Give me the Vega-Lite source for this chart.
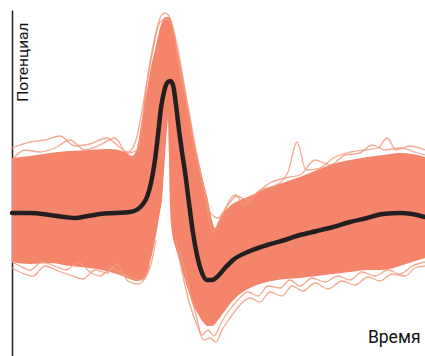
{
  "$schema": "https://vega.github.io/schema/vega-lite/v6.json",
  "width": 413,
  "height": 346,
  "autosize": "none",
  "padding": {"left": 12, "top": 10, "right": 0, "bottom": 0},
  "background": "white",
  "config": {"view": {"stroke": null}},
  "datasets": {
    "band": [
      {"piece": "A", "t": 0, "hi": 55, "lo": -49},
      {"piece": "A", "t": 18, "hi": 57, "lo": -51},
      {"piece": "A", "t": 38, "hi": 60, "lo": -50},
      {"piece": "A", "t": 58, "hi": 62, "lo": -53},
      {"piece": "A", "t": 78, "hi": 63, "lo": -55},
      {"piece": "A", "t": 98, "hi": 64, "lo": -59},
      {"piece": "A", "t": 113, "hi": 61, "lo": -64},
      {"piece": "A", "t": 120, "hi": 57, "lo": -67},
      {"piece": "A", "t": 125, "hi": 65, "lo": -68},
      {"piece": "A", "t": 129, "hi": 88, "lo": -67},
      {"piece": "A", "t": 133, "hi": 113, "lo": -64},
      {"piece": "A", "t": 136, "hi": 129, "lo": -57},
      {"piece": "A", "t": 138, "hi": 141, "lo": -49},
      {"piece": "A", "t": 141, "hi": 155, "lo": -37},
      {"piece": "A", "t": 143, "hi": 163, "lo": -27},
      {"piece": "A", "t": 146, "hi": 177, "lo": -11},
      {"piece": "A", "t": 148, "hi": 185, "lo": 1},
      {"piece": "A", "t": 150, "hi": 191, "lo": 13},
      {"piece": "A", "t": 152, "hi": 195, "lo": 41},
      {"piece": "A", "t": 154, "hi": 196, "lo": 71},
      {"piece": "A", "t": 156, "hi": 196, "lo": 95},
      {"piece": "B", "t": 156, "hi": 196, "lo": 95},
      {"piece": "B", "t": 157, "hi": 196, "lo": 53},
      {"piece": "B", "t": 158, "hi": 195, "lo": 8},
      {"piece": "B", "t": 160, "hi": 191, "lo": -19},
      {"piece": "B", "t": 163, "hi": 177, "lo": -33},
      {"piece": "B", "t": 166, "hi": 161, "lo": -43},
      {"piece": "B", "t": 169, "hi": 145, "lo": -53},
      {"piece": "B", "t": 172, "hi": 129, "lo": -64},
      {"piece": "B", "t": 175, "hi": 113, "lo": -74},
      {"piece": "B", "t": 178, "hi": 96, "lo": -83},
      {"piece": "B", "t": 181, "hi": 78, "lo": -91},
      {"piece": "B", "t": 186, "hi": 55, "lo": -101},
      {"piece": "B", "t": 191, "hi": 33, "lo": -109},
      {"piece": "B", "t": 196, "hi": 13, "lo": -113},
      {"piece": "B", "t": 200, "hi": -7, "lo": -113},
      {"piece": "B", "t": 203, "hi": -15, "lo": -111},
      {"piece": "B", "t": 206, "hi": -9, "lo": -107},
      {"piece": "B", "t": 212, "hi": 1, "lo": -99},
      {"piece": "B", "t": 218, "hi": 7, "lo": -91},
      {"piece": "B", "t": 228, "hi": 13, "lo": -81},
      {"piece": "B", "t": 238, "hi": 17, "lo": -75},
      {"piece": "B", "t": 255, "hi": 25, "lo": -69},
      {"piece": "B", "t": 273, "hi": 31, "lo": -66},
      {"piece": "B", "t": 288, "hi": 36, "lo": -65},
      {"piece": "B", "t": 305, "hi": 43, "lo": -63},
      {"piece": "B", "t": 321, "hi": 49, "lo": -61},
      {"piece": "B", "t": 338, "hi": 53, "lo": -59},
      {"piece": "B", "t": 355, "hi": 56, "lo": -57},
      {"piece": "B", "t": 371, "hi": 58, "lo": -57},
      {"piece": "B", "t": 388, "hi": 60, "lo": -53},
      {"piece": "B", "t": 400, "hi": 59, "lo": -49},
      {"piece": "B", "t": 413, "hi": 56, "lo": -45}
    ],
    "traces": [
      {"s": "U1", "t": 0, "v": 65}, {"s": "U1", "t": 18, "v": 71}, {"s": "U1", "t": 33, "v": 73}, {"s": "U1", "t": 48, "v": 77},
      {"s": "U1", "t": 63, "v": 67}, {"s": "U1", "t": 78, "v": 69}, {"s": "U1", "t": 95, "v": 75}, {"s": "U1", "t": 106, "v": 67},
      {"s": "U1", "t": 116, "v": 61}, {"s": "U1", "t": 124, "v": 73}, {"s": "U1", "t": 131, "v": 108}, {"s": "U1", "t": 138, "v": 151},
      {"s": "U1", "t": 144, "v": 181}, {"s": "U1", "t": 149, "v": 197}, {"s": "U1", "t": 153, "v": 200}, {"s": "U1", "t": 157, "v": 197},
      {"s": "U1", "t": 162, "v": 178}, {"s": "U1", "t": 168, "v": 143}, {"s": "U1", "t": 175, "v": 108}, {"s": "U1", "t": 183, "v": 63},
      {"s": "U1", "t": 191, "v": 28}, {"s": "U1", "t": 198, "v": 1}, {"s": "U1", "t": 206, "v": -5}, {"s": "U1", "t": 216, "v": 8},
      {"s": "U1", "t": 225, "v": 17}, {"s": "U1", "t": 235, "v": 13}, {"s": "U1", "t": 248, "v": 23}, {"s": "U1", "t": 263, "v": 27},
      {"s": "U1", "t": 276, "v": 41}, {"s": "U1", "t": 285, "v": 71}, {"s": "U1", "t": 294, "v": 43}, {"s": "U1", "t": 308, "v": 45},
      {"s": "U1", "t": 321, "v": 55}, {"s": "U1", "t": 338, "v": 61}, {"s": "U1", "t": 353, "v": 63}, {"s": "U1", "t": 366, "v": 65},
      {"s": "U1", "t": 375, "v": 75}, {"s": "U1", "t": 384, "v": 63}, {"s": "U1", "t": 398, "v": 67}, {"s": "U1", "t": 413, "v": 63},
      {"s": "U2", "t": 0, "v": 53}, {"s": "U2", "t": 13, "v": 63}, {"s": "U2", "t": 28, "v": 61}, {"s": "U2", "t": 43, "v": 65},
      {"s": "U2", "t": 58, "v": 73}, {"s": "U2", "t": 73, "v": 63}, {"s": "U2", "t": 88, "v": 68}, {"s": "U2", "t": 103, "v": 75},
      {"s": "U2", "t": 115, "v": 60}, {"s": "U2", "t": 126, "v": 63}, {"s": "U2", "t": 134, "v": 123}, {"s": "U2", "t": 141, "v": 163},
      {"s": "U2", "t": 148, "v": 191}, {"s": "U2", "t": 154, "v": 194}, {"s": "U2", "t": 160, "v": 188}, {"s": "U2", "t": 166, "v": 163},
      {"s": "U2", "t": 174, "v": 118}, {"s": "U2", "t": 183, "v": 68}, {"s": "U2", "t": 193, "v": 18}, {"s": "U2", "t": 201, "v": -19},
      {"s": "U2", "t": 210, "v": -2}, {"s": "U2", "t": 223, "v": 18}, {"s": "U2", "t": 233, "v": 8}, {"s": "U2", "t": 246, "v": 21},
      {"s": "U2", "t": 258, "v": 30}, {"s": "U2", "t": 273, "v": 35}, {"s": "U2", "t": 288, "v": 38}, {"s": "U2", "t": 303, "v": 53},
      {"s": "U2", "t": 318, "v": 48}, {"s": "U2", "t": 333, "v": 58}, {"s": "U2", "t": 348, "v": 60}, {"s": "U2", "t": 360, "v": 68},
      {"s": "U2", "t": 373, "v": 63}, {"s": "U2", "t": 388, "v": 65}, {"s": "U2", "t": 403, "v": 61}, {"s": "U2", "t": 413, "v": 58},
      {"s": "L1a", "t": 0, "v": -55}, {"s": "L1a", "t": 10, "v": -60}, {"s": "L1a", "t": 21, "v": -63}, {"s": "L1a", "t": 33, "v": -53},
      {"s": "L1a", "t": 46, "v": -58}, {"s": "L1a", "t": 58, "v": -62}, {"s": "L1a", "t": 71, "v": -66}, {"s": "L1a", "t": 83, "v": -57},
      {"s": "L1a", "t": 95, "v": -60}, {"s": "L1a", "t": 105, "v": -51}, {"s": "L1a", "t": 116, "v": -68}, {"s": "L1a", "t": 126, "v": -71},
      {"s": "L1a", "t": 134, "v": -64}, {"s": "L1a", "t": 140, "v": -47}, {"s": "L1a", "t": 144, "v": -27},
      {"s": "L2a", "t": 0, "v": -49}, {"s": "L2a", "t": 8, "v": -53}, {"s": "L2a", "t": 18, "v": -57}, {"s": "L2a", "t": 30, "v": -49},
      {"s": "L2a", "t": 43, "v": -53}, {"s": "L2a", "t": 54, "v": -57}, {"s": "L2a", "t": 66, "v": -49}, {"s": "L2a", "t": 78, "v": -59},
      {"s": "L2a", "t": 88, "v": -63}, {"s": "L2a", "t": 100, "v": -55}, {"s": "L2a", "t": 110, "v": -61}, {"s": "L2a", "t": 120, "v": -65},
      {"s": "L2a", "t": 130, "v": -67}, {"s": "L2a", "t": 138, "v": -52},
      {"s": "L1b", "t": 164, "v": -27}, {"s": "L1b", "t": 170, "v": -59}, {"s": "L1b", "t": 178, "v": -92}, {"s": "L1b", "t": 185, "v": -112},
      {"s": "L1b", "t": 192, "v": -127}, {"s": "L1b", "t": 198, "v": -125}, {"s": "L1b", "t": 204, "v": -129}, {"s": "L1b", "t": 210, "v": -117},
      {"s": "L1b", "t": 218, "v": -105}, {"s": "L1b", "t": 228, "v": -92}, {"s": "L1b", "t": 238, "v": -85}, {"s": "L1b", "t": 248, "v": -89},
      {"s": "L1b", "t": 258, "v": -79}, {"s": "L1b", "t": 270, "v": -83}, {"s": "L1b", "t": 280, "v": -73}, {"s": "L1b", "t": 291, "v": -78},
      {"s": "L1b", "t": 303, "v": -70}, {"s": "L1b", "t": 316, "v": -76}, {"s": "L1b", "t": 330, "v": -68}, {"s": "L1b", "t": 343, "v": -72},
      {"s": "L1b", "t": 356, "v": -64}, {"s": "L1b", "t": 368, "v": -68}, {"s": "L1b", "t": 380, "v": -61}, {"s": "L1b", "t": 393, "v": -63},
      {"s": "L1b", "t": 403, "v": -55}, {"s": "L1b", "t": 413, "v": -53},
      {"s": "L2b", "t": 168, "v": -37}, {"s": "L2b", "t": 176, "v": -72}, {"s": "L2b", "t": 184, "v": -102}, {"s": "L2b", "t": 190, "v": -122},
      {"s": "L2b", "t": 196, "v": -117}, {"s": "L2b", "t": 202, "v": -123}, {"s": "L2b", "t": 208, "v": -112}, {"s": "L2b", "t": 216, "v": -99},
      {"s": "L2b", "t": 226, "v": -87}, {"s": "L2b", "t": 236, "v": -79}, {"s": "L2b", "t": 246, "v": -83}, {"s": "L2b", "t": 256, "v": -73},
      {"s": "L2b", "t": 268, "v": -75}, {"s": "L2b", "t": 278, "v": -67}, {"s": "L2b", "t": 288, "v": -73}, {"s": "L2b", "t": 300, "v": -65},
      {"s": "L2b", "t": 313, "v": -69}, {"s": "L2b", "t": 326, "v": -63}, {"s": "L2b", "t": 338, "v": -67}, {"s": "L2b", "t": 350, "v": -59},
      {"s": "L2b", "t": 363, "v": -63}, {"s": "L2b", "t": 376, "v": -57}, {"s": "L2b", "t": 388, "v": -61}, {"s": "L2b", "t": 400, "v": -53},
      {"s": "L2b", "t": 413, "v": -49}
    ],
    "mean": [
      {"t": 0, "v": 0}, {"t": 18, "v": 0}, {"t": 38, "v": -2}, {"t": 53, "v": -4}, {"t": 63, "v": -5},
      {"t": 76, "v": -3}, {"t": 88, "v": -1}, {"t": 103, "v": 0}, {"t": 118, "v": 1}, {"t": 126, "v": 4},
      {"t": 131, "v": 9}, {"t": 135, "v": 16}, {"t": 139, "v": 30}, {"t": 143, "v": 53}, {"t": 146, "v": 78},
      {"t": 149, "v": 105}, {"t": 152, "v": 121}, {"t": 155, "v": 130}, {"t": 158, "v": 132}, {"t": 161, "v": 128},
      {"t": 164, "v": 108}, {"t": 167, "v": 83}, {"t": 170, "v": 61}, {"t": 173, "v": 41}, {"t": 177, "v": 10},
      {"t": 181, "v": -20}, {"t": 185, "v": -42}, {"t": 190, "v": -60}, {"t": 195, "v": -67}, {"t": 200, "v": -67},
      {"t": 205, "v": -64}, {"t": 213, "v": -55}, {"t": 221, "v": -47}, {"t": 238, "v": -38}, {"t": 255, "v": -32},
      {"t": 273, "v": -27}, {"t": 288, "v": -22}, {"t": 305, "v": -18}, {"t": 321, "v": -14}, {"t": 338, "v": -9},
      {"t": 355, "v": -5}, {"t": 371, "v": -1}, {"t": 388, "v": 0}, {"t": 400, "v": -1}, {"t": 413, "v": -4}
    ]
  },
  "layer": [
    {
      "data": {"name": "band"},
      "mark": {"type": "area", "color": "#F4846A", "interpolate": "monotone", "opacity": 1},
      "encoding": {
        "x": {"field": "t", "type": "quantitative", "scale": {"domain": [0, 413], "nice": false, "zero": false},
          "axis": {"title": "Время", "domain": false, "ticks": false, "labels": false, "grid": false,
            "titleX": 408, "titleY": -14, "titleAlign": "right", "titleBaseline": "alphabetic",
            "titleFont": "Roboto", "titleFontSize": 17.5, "titleFontWeight": "normal", "titleColor": "#111111"}},
        "y": {"field": "hi", "type": "quantitative", "scale": {"domain": [-143, 203], "nice": false, "zero": false},
          "axis": {"title": "Потенциал", "domain": true, "domainColor": "#222222", "domainWidth": 1.5, "ticks": false, "labels": false, "grid": false,
            "titleAngle": 270, "titleX": 15, "titleY": 12, "titleAlign": "right", "titleBaseline": "alphabetic",
            "titleFont": "Roboto", "titleFontSize": 15.5, "titleFontWeight": "normal", "titleColor": "#111111"}},
        "y2": {"field": "lo"},
        "detail": {"field": "piece"}
      }
    },
    {
      "data": {"name": "traces"},
      "mark": {"type": "line", "color": "#F39A80", "strokeWidth": 1.3, "opacity": 0.85, "interpolate": "monotone"},
      "encoding": {
        "x": {"field": "t", "type": "quantitative"},
        "y": {"field": "v", "type": "quantitative"},
        "detail": {"field": "s"}
      }
    },
    {
      "data": {"name": "mean"},
      "mark": {"type": "line", "color": "#231F20", "strokeWidth": 4.5, "interpolate": "monotone", "strokeCap": "round"},
      "encoding": {
        "x": {"field": "t", "type": "quantitative"},
        "y": {"field": "v", "type": "quantitative"}
      }
    }
  ]
}
